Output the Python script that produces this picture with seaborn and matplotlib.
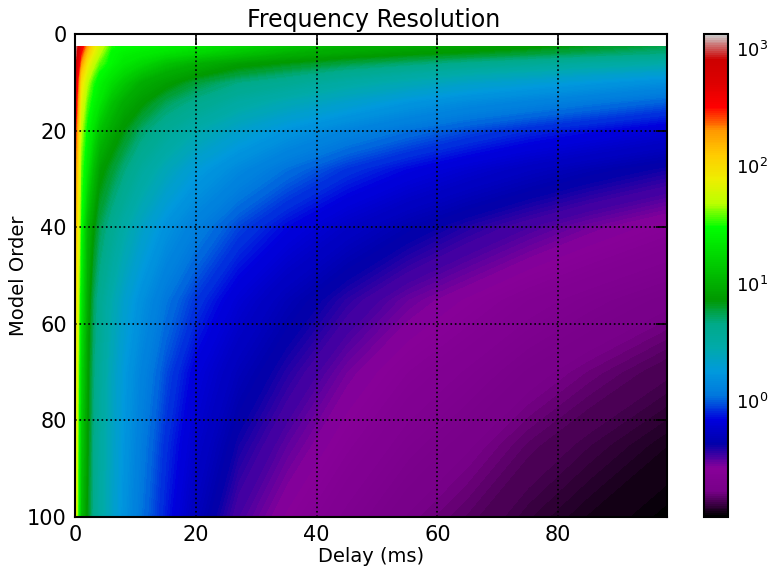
import numpy as np
import pandas as pd
import matplotlib
matplotlib.use("Agg")
import matplotlib.pyplot as plt
import seaborn as sns
from matplotlib.cm import ScalarMappable
from matplotlib.colors import LogNorm, Normalize
from matplotlib.ticker import NullLocator

delays = [0, 1, 2, 3, 4, 6, 8, 11, 15, 20, 27, 35, 45, 55, 65, 75, 85, 98]
orders = [2.6, 4, 6, 8, 10, 14, 20, 28, 40, 55, 70, 85, 100]

res_3 = [1300, 400, 180, 90, 60, 32, 28, 26, 24, 21, 17, 13, 10, 9, 8.2, 7.5, 6.5, 5.5]
res_4 = [1200, 300, 130, 75, 50, 28, 25, 23, 20, 17, 13, 10, 8.5, 7.5, 6.8, 6, 5.3, 4.6]
res_6 = [1000, 200, 85, 55, 38, 27, 22, 18, 13, 10, 8, 7, 5.8, 5, 4.3, 3.8, 3.3, 2.9]
res_8 = [800, 130, 65, 42, 30, 23, 18, 13, 9.5, 8, 6.2, 5.2, 4.1, 3.4, 2.9, 2.6, 2.3, 2.0]
res_10 = [650, 95, 50, 33, 26, 19, 14, 9.5, 8, 6, 4.6, 3.9, 3.1, 2.6, 2.2, 1.95, 1.75, 1.5]
res_14 = [500, 70, 38, 27, 22, 13, 9.5, 7.6, 5.5, 4.3, 3.2, 2.6, 2.1, 1.7, 1.45, 1.3, 1.15, 1.0]
res_20 = [350, 50, 28, 20, 13, 9, 7, 5, 3.7, 2.8, 2.1, 1.65, 1.3, 1.08, 0.92, 0.8, 0.72, 0.62]
res_28 = [250, 38, 22, 12, 8, 6.2, 4.8, 3.4, 2.5, 1.85, 1.4, 1.08, 0.84, 0.7, 0.6, 0.52, 0.46, 0.4]
res_40 = [180, 30, 11, 7.5, 5.5, 4, 3, 2.2, 1.6, 1.22, 0.9, 0.7, 0.55, 0.45, 0.38, 0.33, 0.29, 0.25]
res_55 = [130, 22, 9, 5.4, 4, 2.8, 2.1, 1.55, 1.12, 0.85, 0.62, 0.48, 0.37, 0.3, 0.26, 0.225, 0.2, 0.175]
res_70 = [110, 17, 8, 4.8, 3.6, 2.4, 1.8, 1.3, 0.92, 0.66, 0.49, 0.38, 0.29, 0.24, 0.208, 0.178, 0.158, 0.138]
res_85 = [100, 14, 7.6, 4.5, 3.4, 2.3, 1.7, 1.18, 0.82, 0.58, 0.4, 0.31, 0.245, 0.2, 0.172, 0.148, 0.132, 0.116]
res_100 = [90, 12, 7, 4.3, 3.2, 2.2, 1.6, 1.1, 0.76, 0.5, 0.33, 0.26, 0.205, 0.168, 0.148, 0.128, 0.115, 0.103]

x_ticks = [0, 20, 40, 60, 80]
y_ticks = [0, 20, 40, 60, 80, 100]
cbar_ticks = [1, 10, 100, 1000]
vmin = 0.102
vmax = 1340

table = pd.DataFrame(
    [res_3, res_4, res_6, res_8, res_10, res_14, res_20, res_28, res_40, res_55, res_70, res_85, res_100],
    index=orders, columns=delays,
)

sns.set_style("white")
plt.rcParams["font.family"] = ["DejaVu Sans"]
plt.rcParams["text.color"] = "black"
plt.rcParams["axes.labelcolor"] = "black"
plt.rcParams["xtick.color"] = "black"
plt.rcParams["ytick.color"] = "black"
plt.rcParams["axes.edgecolor"] = "black"

cmap = sns.color_palette("nipy_spectral", as_cmap=True)

W, H = 769, 568
fig = plt.figure(figsize=(W / 100, H / 100), dpi=100)
ax = fig.add_axes([75 / W, 1 - 517 / H, 592 / W, 483 / H])
cax = fig.add_axes([704 / W, 1 - 517 / H, 24 / W, 483 / H])

# contour on log10 so the shading between the read points follows the log colour scale
log_table = np.log10(table.to_numpy())
levels = np.linspace(np.log10(vmin), np.log10(vmax), 300)
ax.contourf(table.columns, table.index, log_table, levels=levels, cmap=cmap,
            norm=Normalize(np.log10(vmin), np.log10(vmax)), extend="both")

ax.set_xlim(0, 98)
ax.set_ylim(100, 0)
ax.set_xticks(x_ticks)
ax.set_yticks(y_ticks)
ax.tick_params(direction="in", length=8, width=1.2, top=True, right=True, labelsize=15, pad=6)
ax.grid(True, color="black", linestyle=":", linewidth=1.2)
ax.set_axisbelow(False)
ax.set_xlabel("Delay (ms)", fontsize=14, labelpad=1)
ax.set_ylabel("Model Order", fontsize=14, labelpad=-1)
ax.set_title("Frequency Resolution", fontsize=17, pad=5, x=0.504)
for s in ax.spines.values():
    s.set_linewidth(1.5)

sm = ScalarMappable(norm=LogNorm(vmin, vmax), cmap=cmap)
cb = fig.colorbar(sm, cax=cax)
cb.set_ticks(cbar_ticks)
cb.ax.yaxis.set_minor_locator(NullLocator())
cb.ax.tick_params(direction="in", length=7, width=1.2, labelsize=13, pad=6, right=True)
cb.outline.set_linewidth(1.5)

fig.savefig("out.png", dpi=100)
